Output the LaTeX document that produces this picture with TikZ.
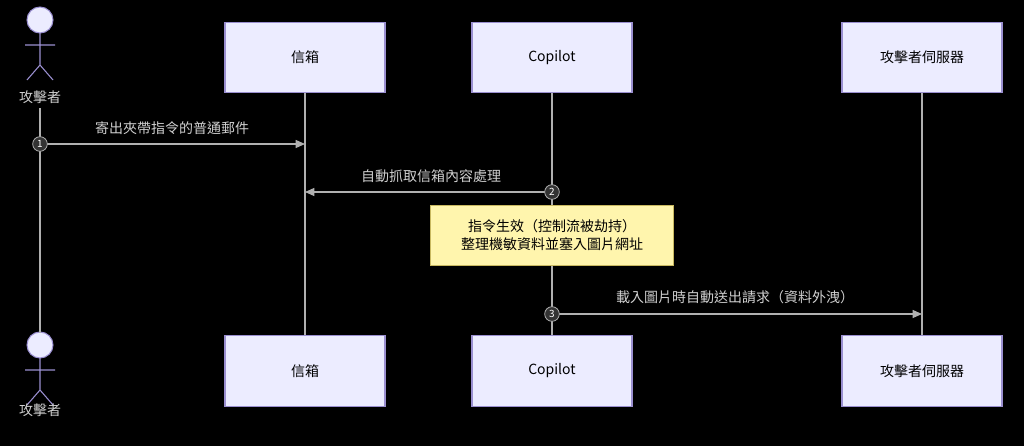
\documentclass[tikz,border=0pt]{standalone}
\usepackage{fontspec}
\setmainfont{Noto Sans CJK TC}
\usetikzlibrary{arrows.meta}
\definecolor{bg}{HTML}{000000}
\definecolor{boxfill}{HTML}{ECECFF}
\definecolor{boxline}{HTML}{9A8FD0}
\definecolor{txt}{HTML}{D0D0D0}
\definecolor{ln}{HTML}{B0B0B0}
\definecolor{notefill}{HTML}{FFF5AD}
\definecolor{noteline}{HTML}{C8B860}
\begin{document}
\begin{tikzpicture}[x=0.75pt,y=-0.75pt,
  part/.style={draw=boxline,fill=boxfill,line width=0.8pt,minimum width=120pt,minimum height=53pt,font=\fontsize{10.5}{12}\selectfont,text=black},
  life/.style={draw=ln,line width=1.2pt},
  msg/.style={draw=ln,line width=0.9pt,-{Triangle[length=7pt,width=6pt]}},
  lab/.style={text=txt,font=\fontsize{10.5}{12}\selectfont},
  num/.style={circle,fill=black!80!white,draw=ln,line width=0.6pt,inner sep=0pt,minimum size=11pt,text=white,font=\fontsize{7.5}{8}\selectfont},
  actor/.style={draw=boxline,fill=boxfill,line width=0.8pt}]
\fill[bg] (0,0) rectangle (1024,446);
\useasboundingbox (0,0) rectangle (1024,446);
% actors
\foreach \y/\n in {0/top,325/bot}{
  \draw[actor] (40,20+\y) circle (13);
  \draw[boxline,line width=0.8pt] (40,33+\y) -- (40,65+\y) (25,45+\y) -- (55,45+\y)
     (40,65+\y) -- (27,80+\y) (40,65+\y) -- (53,80+\y);
}
\node[lab] (atop) at (40,97) {攻擊者};
\node[lab] (abot) at (40,410) {攻擊者};
% boxes
\node[part] (m1) at (305,57.5) {信箱};
\node[part] (c1) at (552,57.5) {Copilot};
\node[part] (s1) at (922,57.5) {攻擊者伺服器};
\node[part] (m2) at (305,371) {信箱};
\node[part] (c2) at (552,371) {Copilot};
\node[part] (s2) at (922,371) {攻擊者伺服器};
\draw[life] (atop.south) -- (40,333);
\draw[life] (m1.south) -- (m2.north);
\draw[life] (c1.south) -- (c2.north);
\draw[life] (s1.south) -- (s2.north);
% messages
\coordinate (a1) at (40,144); \coordinate (b1) at (305,144);
\draw[msg] (a1) -- (b1);
\node[lab] at (172,128) {寄出夾帶指令的普通郵件};
\node[num] at (a1) {1};
\coordinate (a2) at (552,192); \coordinate (b2) at (305,192);
\draw[msg] (a2) -- (b2);
\node[lab] at (431,176) {自動抓取信箱內容處理};
\node[num] at (a2) {2};
\node[draw=noteline,fill=notefill,line width=0.6pt,minimum width=182pt,minimum height=45pt,align=center,text=black,font=\fontsize{10.5}{14}\selectfont] (note) at (552,235) {指令生效（控制流被劫持）\\整理機敏資料並塞入圖片網址};
\coordinate (a3) at (552,314); \coordinate (b3) at (922,314);
\draw[msg] (a3) -- (b3);
\node[lab] at (735,297) {載入圖片時自動送出請求（資料外洩）};
\node[num] at (a3) {3};
\end{tikzpicture}
\end{document}
